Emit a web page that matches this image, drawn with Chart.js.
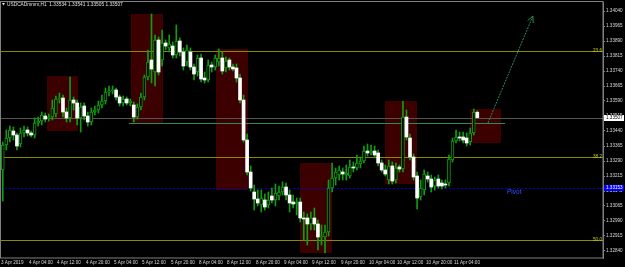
<!DOCTYPE html>
<html lang="en">
<head>
<meta charset="UTF-8">
<title>USDCAD H1</title>
<script src="https://cdn.jsdelivr.net/npm/chart.js@4.4.0/dist/chart.umd.min.js"></script>
<style>
  html, body { margin: 0; padding: 0; background: #000; }
</style>
</head>
<body>
<canvas id="chart" width="625" height="267"></canvas>
<script>
// hourly candles, 3 Apr 2019 20:00 .. 11 Apr 10:00
const opens = [1.33245,1.33370,1.33405,1.33440,1.33420,1.33375,1.33430,1.33445,1.33430,1.33420,
  1.33480,1.33490,1.33515,1.33500,1.33510,1.33525,1.33600,1.33605,1.33535,1.33505,
  1.33595,1.33580,1.33505,1.33565,1.33515,1.33485,1.33535,1.33545,1.33570,1.33590,
  1.33635,1.33640,1.33645,1.33610,1.33580,1.33600,1.33580,1.33570,1.33510,1.33560,
  1.33610,1.33710,1.33795,1.33735,1.33895,1.33795,1.33880,1.33855,1.33865,1.33820,
  1.33890,1.33835,1.33785,1.33835,1.33760,1.33735,1.33805,1.33705,1.33695,1.33770,
  1.33760,1.33785,1.33805,1.33755,1.33795,1.33760,1.33755,1.33705,1.33595,1.33395,
  1.33235,1.33135,1.33100,1.33070,1.33095,1.33070,1.33115,1.33095,1.33115,1.33135,
  1.33160,1.33120,1.33085,1.33075,1.33085,1.33005,1.33005,1.32975,1.33005,1.32975,
  1.32910,1.32910,1.32935,1.33155,1.33205,1.33220,1.33235,1.33220,1.33215,1.33260,
  1.33255,1.33275,1.33290,1.33340,1.33330,1.33340,1.33330,1.33280,1.33245,1.33195,
  1.33265,1.33195,1.33260,1.33250,1.33510,1.33405,1.33310,1.33215,1.33110,1.33145,
  1.33215,1.33200,1.33165,1.33200,1.33180,1.33175,1.33180,1.33295,1.33390,1.33410,
  1.33410,1.33405,1.33385,1.33430,1.33534];
const highs = [1.33385,1.33445,1.33465,1.33460,1.33430,1.33455,1.33465,1.33460,1.33440,1.33505,
  1.33510,1.33535,1.33530,1.33525,1.33595,1.33615,1.33630,1.33620,1.33555,1.33710,
  1.33610,1.33595,1.33580,1.33580,1.33535,1.33555,1.33565,1.33590,1.33620,1.33655,
  1.33665,1.33665,1.33655,1.33620,1.33615,1.33610,1.33600,1.33585,1.33575,1.33630,
  1.33720,1.33845,1.34025,1.33920,1.33910,1.33945,1.33895,1.33920,1.33885,1.33970,
  1.33905,1.33855,1.33870,1.33855,1.33775,1.33820,1.33825,1.33735,1.33795,1.33785,
  1.33820,1.33850,1.33835,1.33810,1.33805,1.33775,1.33775,1.33725,1.33620,1.33425,
  1.33265,1.33170,1.33145,1.33145,1.33125,1.33135,1.33155,1.33175,1.33165,1.33185,
  1.33180,1.33145,1.33120,1.33105,1.33105,1.33035,1.33025,1.33035,1.33055,1.32995,
  1.32970,1.32970,1.33195,1.33280,1.33255,1.33265,1.33255,1.33270,1.33295,1.33285,
  1.33320,1.33310,1.33365,1.33375,1.33370,1.33365,1.33345,1.33295,1.33270,1.33295,
  1.33285,1.33280,1.33270,1.33590,1.33545,1.33425,1.33325,1.33235,1.33195,1.33245,
  1.33235,1.33220,1.33210,1.33220,1.33195,1.33195,1.33320,1.33405,1.33445,1.33435,
  1.33435,1.33430,1.33455,1.33550,1.33541];
const lows = [1.33090,1.33345,1.33385,1.33395,1.33345,1.33360,1.33410,1.33415,1.33410,1.33405,
  1.33465,1.33470,1.33485,1.33490,1.33495,1.33510,1.33580,1.33510,1.33485,1.33485,
  1.33545,1.33470,1.33435,1.33495,1.33465,1.33470,1.33520,1.33530,1.33555,1.33575,
  1.33615,1.33625,1.33595,1.33565,1.33565,1.33570,1.33565,1.33485,1.33500,1.33545,
  1.33595,1.33695,1.33680,1.33665,1.33720,1.33765,1.33845,1.33835,1.33805,1.33805,
  1.33815,1.33745,1.33765,1.33745,1.33695,1.33715,1.33685,1.33680,1.33685,1.33735,
  1.33745,1.33765,1.33725,1.33735,1.33745,1.33740,1.33685,1.33580,1.33385,1.33220,
  1.33140,1.33045,1.33065,1.33035,1.33045,1.33055,1.33080,1.33065,1.33095,1.33120,
  1.33095,1.33035,1.33055,1.33020,1.32985,1.32895,1.32870,1.32945,1.32945,1.32845,
  1.32870,1.32830,1.32915,1.33135,1.33170,1.33195,1.33195,1.33195,1.33205,1.33235,
  1.33245,1.33255,1.33280,1.33315,1.33320,1.33305,1.33265,1.33235,1.33215,1.33175,
  1.33175,1.33180,1.33235,1.33235,1.33395,1.33295,1.33195,1.33050,1.33095,1.33120,
  1.33185,1.33135,1.33145,1.33155,1.33150,1.33155,1.33165,1.33285,1.33380,1.33390,
  1.33380,1.33365,1.33370,1.33420,1.33505];
const closes = [1.33370,1.33405,1.33445,1.33420,1.33365,1.33430,1.33445,1.33430,1.33420,1.33480,
  1.33490,1.33520,1.33500,1.33510,1.33555,1.33600,1.33605,1.33535,1.33505,1.33595,
  1.33580,1.33505,1.33560,1.33515,1.33485,1.33535,1.33545,1.33570,1.33590,1.33635,
  1.33640,1.33645,1.33610,1.33580,1.33600,1.33580,1.33590,1.33510,1.33560,1.33610,
  1.33710,1.33785,1.33750,1.33895,1.33735,1.33880,1.33865,1.33875,1.33820,1.33890,
  1.33835,1.33765,1.33845,1.33760,1.33725,1.33805,1.33700,1.33695,1.33770,1.33760,
  1.33805,1.33805,1.33740,1.33790,1.33760,1.33750,1.33705,1.33595,1.33395,1.33235,
  1.33155,1.33100,1.33080,1.33105,1.33060,1.33095,1.33095,1.33130,1.33135,1.33160,
  1.33120,1.33080,1.33075,1.33085,1.33005,1.33000,1.32975,1.33005,1.32975,1.32910,
  1.32915,1.32935,1.33155,1.33205,1.33235,1.33245,1.33225,1.33230,1.33260,1.33255,
  1.33280,1.33290,1.33340,1.33330,1.33340,1.33320,1.33280,1.33245,1.33225,1.33265,
  1.33190,1.33255,1.33250,1.33510,1.33410,1.33310,1.33210,1.33105,1.33155,1.33225,
  1.33200,1.33160,1.33195,1.33165,1.33165,1.33170,1.33300,1.33390,1.33410,1.33405,
  1.33395,1.33380,1.33430,1.33535,1.33507];

const timeTicks = ['3 Apr 2019','4 Apr 04:00','4 Apr 12:00','4 Apr 20:00','5 Apr 04:00','5 Apr 12:00',
  '5 Apr 20:00','8 Apr 04:00','8 Apr 12:00','8 Apr 20:00','9 Apr 04:00','9 Apr 12:00','9 Apr 20:00',
  '10 Apr 04:00','10 Apr 12:00','10 Apr 20:00','11 Apr 04:00'];
const tickStep = 8;
const priceTicks = [1.34040,1.33965,1.33890,1.33815,1.33740,1.33665,1.33590,1.33515,1.33440,
  1.33365,1.33290,1.33215,1.33140,1.33065,1.32990,1.32915,1.32840];

// drawn objects (bar index / price)
const zoneFrom = [12.5, 36.2, 60.2, 83.9, 107.9, 131.9];
const zoneTo = [21.2, 45.25, 69.25, 93.0, 117.0, 140.7];
const zoneHigh = [1.33715, 1.34025, 1.33850, 1.33280, 1.33590, 1.33550];
const zoneLow = [1.33440, 1.33480, 1.33145, 1.32830, 1.33175, 1.33380];
const fibLevels = [1.33840, 1.33310, 1.32895];
const fibNames = ['23.6', '38.2', '50.0'];
const pivot = 1.33153;
const lastPrice = 1.33507;
const levelLine = { from: 35.6, to: 141.8, price: 1.33480 };
const arrowLine = { x1: 137.0, p1: 1.33480, x2: 149.7, p2: 1.34015 };

const totalBars = 170;
const green = '#109e10';
const labels = Array.from({ length: totalBars }, (_, i) => i);
const isBull = i => closes[i] >= opens[i];

const overlay = {
  id: 'overlay',
  beforeDraw(chart) {
    const ctx = chart.ctx;
    ctx.save();
    ctx.fillStyle = '#000';
    ctx.fillRect(0, 0, chart.width, chart.height);
    ctx.restore();
  },
  beforeDatasetsDraw(chart) {
    const { ctx, chartArea: a, scales: { x, y } } = chart;
    ctx.save();
    ctx.beginPath();
    ctx.rect(a.left, a.top, a.right - a.left, a.bottom - a.top);
    ctx.clip();
    // zones
    ctx.fillStyle = '#3d0000';
    zoneFrom.forEach((f, i) => {
      const x1 = x.getPixelForValue(f), x2 = x.getPixelForValue(zoneTo[i]);
      const y1 = y.getPixelForValue(zoneHigh[i]), y2 = y.getPixelForValue(zoneLow[i]);
      ctx.fillRect(Math.round(x1), Math.round(y1), Math.round(x2 - x1), Math.round(y2 - y1));
    });
    ctx.lineWidth = 1;
    // fibo levels
    ctx.strokeStyle = '#8a8a00';
    fibLevels.forEach(p => {
      const yy = Math.round(y.getPixelForValue(p)) + 0.5;
      ctx.beginPath(); ctx.moveTo(a.left, yy); ctx.lineTo(a.right, yy); ctx.stroke();
    });
    // pivot
    ctx.strokeStyle = '#0000d0';
    ctx.setLineDash([2, 2]);
    let yy = Math.round(y.getPixelForValue(pivot)) + 0.5;
    ctx.beginPath(); ctx.moveTo(a.left, yy); ctx.lineTo(a.right, yy); ctx.stroke();
    ctx.setLineDash([]);
    // bid line
    ctx.strokeStyle = '#555555';
    yy = Math.round(y.getPixelForValue(lastPrice)) + 0.5;
    ctx.beginPath(); ctx.moveTo(a.left, yy); ctx.lineTo(a.right, yy); ctx.stroke();
    // level line
    ctx.strokeStyle = '#2e8b57';
    yy = Math.round(y.getPixelForValue(levelLine.price)) + 0.5;
    ctx.beginPath();
    ctx.moveTo(x.getPixelForValue(levelLine.from), yy);
    ctx.lineTo(x.getPixelForValue(levelLine.to), yy);
    ctx.stroke();
    ctx.restore();
  },
  afterDatasetsDraw(chart) {
    const { ctx, chartArea: a, scales: { x, y } } = chart;
    ctx.save();
    // projection arrow
    const ax1 = x.getPixelForValue(arrowLine.x1), ay1 = y.getPixelForValue(arrowLine.p1);
    const ax2 = x.getPixelForValue(arrowLine.x2), ay2 = y.getPixelForValue(arrowLine.p2);
    ctx.strokeStyle = '#2e8b57';
    ctx.lineWidth = 1;
    ctx.setLineDash([2, 1]);
    ctx.beginPath(); ctx.moveTo(ax1, ay1); ctx.lineTo(ax2, ay2); ctx.stroke();
    ctx.setLineDash([]);
    const ang = Math.atan2(ay2 - ay1, ax2 - ax1);
    ctx.beginPath();
    ctx.moveTo(ax2 - 7 * Math.cos(ang - 0.45), ay2 - 7 * Math.sin(ang - 0.45));
    ctx.lineTo(ax2, ay2);
    ctx.lineTo(ax2 - 7 * Math.cos(ang + 0.45), ay2 - 7 * Math.sin(ang + 0.45));
    ctx.stroke();

    // frame
    ctx.strokeStyle = '#808080';
    ctx.strokeRect(0.5, a.top - 0.5, a.right - 0.5, a.bottom - a.top + 0.5);

    // time labels along the x scale
    ctx.fillStyle = '#d8d8d8';
    ctx.font = '4.6px "Liberation Sans"';
    ctx.textAlign = 'left';
    ctx.textBaseline = 'middle';
    timeTicks.forEach((t, k) => {
      ctx.fillText(t, Math.round(x.getPixelForValue(k * tickStep)) - 2, a.bottom + 4.5);
    });

    // fibo labels
    ctx.font = '4.6px "Liberation Sans"';
    ctx.fillStyle = '#d0d000';
    ctx.textAlign = 'right';
    ctx.textBaseline = 'bottom';
    fibLevels.forEach((p, i) => {
      ctx.fillText(fibNames[i], a.right - 1, Math.round(y.getPixelForValue(p)) + 2);
    });

    // pivot label
    ctx.fillStyle = '#3355ff';
    ctx.font = '6.5px "Liberation Sans"';
    ctx.textAlign = 'left';
    ctx.textBaseline = 'middle';
    ctx.fillText('Pivot', x.getPixelForValue(142.4), y.getPixelForValue(pivot) + 4);

    // price boxes on the axis
    const box = (p, bg, fg) => {
      const by = Math.round(y.getPixelForValue(p));
      ctx.fillStyle = bg;
      ctx.fillRect(a.right + 1, by - 3, 20, 6);
      ctx.fillStyle = fg;
      ctx.font = '4.6px "Liberation Sans"';
      ctx.textAlign = 'left';
      ctx.textBaseline = 'middle';
      ctx.fillText(p.toFixed(5), a.right + 3, by);
    };
    box(lastPrice, '#ffffff', '#000000');
    box(pivot, '#0000ff', '#ffffff');

    // title
    ctx.fillStyle = '#e0e0e0';
    ctx.beginPath();
    ctx.moveTo(2, 3); ctx.lineTo(5, 3); ctx.lineTo(3.5, 5.5); ctx.closePath(); ctx.fill();
    ctx.font = '4.8px "Liberation Sans"';
    ctx.textAlign = 'left';
    ctx.textBaseline = 'middle';
    const n = opens.length - 1;
    ctx.fillText('USDCADmmm,H1  ' + [opens[n], highs[n], lows[n], closes[n]].map(v => v.toFixed(5)).join(' '), 7, 4.5);
    ctx.restore();
  }
};

new Chart(document.getElementById('chart'), {
  type: 'bar',
  data: {
    labels: labels,
    datasets: [
      {
        data: opens.map((o, i) => [o, closes[i]]),
        backgroundColor: ctx => isBull(ctx.dataIndex) ? '#000000' : '#ffffff',
        borderColor: green,
        borderWidth: ctx => isBull(ctx.dataIndex) ? 1 : 0,
        borderSkipped: false,
        barThickness: 3,
        minBarLength: 1,
        grouped: false,
        order: 1
      },
      {
        data: lows.map((l, i) => [l, highs[i]]),
        backgroundColor: green,
        borderWidth: 0,
        barThickness: 1,
        grouped: false,
        order: 2
      }
    ]
  },
  options: {
    responsive: false,
    animation: false,
    devicePixelRatio: 1,
    layout: { padding: { top: 2, left: 1, right: 0, bottom: 0 } },
    plugins: { legend: { display: false }, tooltip: { enabled: false } },
    scales: {
      x: {
        type: 'category',
        grid: { display: false },
        border: { display: false },
        ticks: { display: false },
        afterFit: s => { s.height = 9; s.paddingLeft = 0; s.paddingRight = 0; }
      },
      y: {
        position: 'right',
        min: 1.32805,
        max: 1.34085,
        afterBuildTicks: s => { s.ticks = priceTicks.map(v => ({ value: v })); },
        grid: { drawOnChartArea: false, color: '#808080', tickLength: 2 },
        border: { color: '#808080' },
        ticks: {
          padding: 1,
          color: '#d8d8d8',
          font: { family: 'Liberation Sans', size: 4.6 },
          callback: v => Number(v).toFixed(5)
        },
        afterFit: s => { s.width = 22; s.paddingTop = 0; s.paddingBottom = 0; }
      }
    }
  },
  plugins: [overlay]
});
</script>
</body>
</html>
